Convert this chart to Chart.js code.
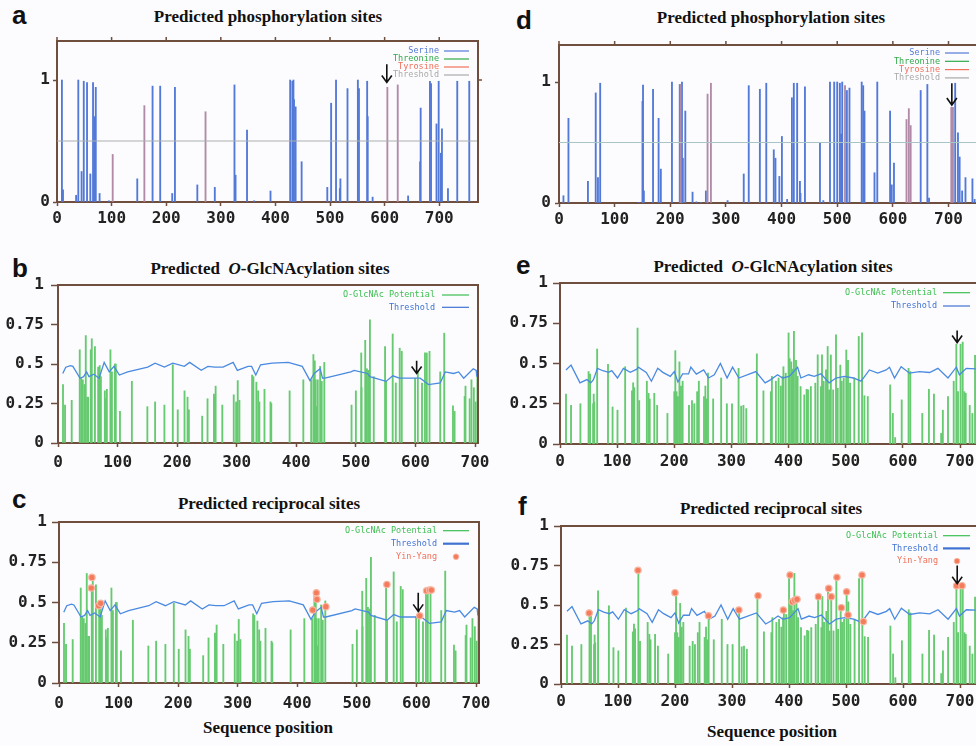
<!DOCTYPE html>
<html>
<head>
<meta charset="utf-8">
<script src="https://cdn.jsdelivr.net/npm/chart.js@4.4.0/dist/chart.umd.min.js"></script>
<style>
html, body { margin:0; padding:0; background:#fcfcfe; width:976px; height:746px; overflow:hidden; position:relative; }
.panel { position:absolute; }
.title { position:absolute; font:bold 17px "Liberation Serif","Times New Roman",serif; line-height:20px; white-space:nowrap; transform:translateX(-50%); color:#111; }
.letter { position:absolute; font:bold 26px "Liberation Sans",Arial,sans-serif; line-height:26px; color:#111; }
</style>
</head>
<body>
<div class="letter" style="left:12px;top:2px">a</div>
<div class="letter" style="left:12px;top:255px">b</div>
<div class="letter" style="left:12px;top:486px">c</div>
<div class="letter" style="left:516px;top:7px">d</div>
<div class="letter" style="left:516px;top:252px">e</div>
<div class="letter" style="left:518px;top:493px">f</div>
<div class="title" style="left:268px;top:7px">Predicted phosphorylation sites</div>
<div class="title" style="left:771px;top:8px">Predicted phosphorylation sites</div>
<div class="title" style="left:270px;top:259px">Predicted&nbsp; <i>O</i>-GlcNAcylation sites</div>
<div class="title" style="left:773px;top:257px">Predicted&nbsp; <i>O</i>-GlcNAcylation sites</div>
<div class="title" style="left:269px;top:494px">Predicted reciprocal sites</div>
<div class="title" style="left:771px;top:499px">Predicted reciprocal sites</div>
<div class="title" style="left:268px;top:718px">Sequence position</div>
<div class="title" style="left:772px;top:722px">Sequence position</div>
<script>
// ---- tick labels
var posTicks = [0, 100, 200, 300, 400, 500, 600, 700];
var phosYTicks = [0, 1];
var glcYTicks = [0, 0.25, 0.5, 0.75, 1];

// ---- panel a : phosphorylation, protein 1
var phosA_S_pos = [9,11,35,39,45,49,55,61,66,69,71,78,95,147,175,189,211,216,257,289,325,327,348,361,391,427,431,433,434,437,448,495,502,511,518,519,532,551,553,568,569,578,643,665,666,683,685,695,699,703,705,716,733,755];
var phosA_S_val = [1.0,0.10,0.055,1.0,0.25,0.99,0.98,0.23,0.98,0.70,0.94,0.07,0.01,0.19,0.95,0.95,0.07,0.94,0.14,0.12,0.96,0.22,0.59,0.01,0.09,1.0,0.99,1.0,0.84,0.78,0.33,0.12,0.81,1.0,0.11,0.19,0.93,1.0,0.93,0.99,0.70,0.04,0.05,0.33,0.77,0.99,0.97,0.64,0.99,0.40,0.60,0.11,0.99,0.99];
var phosA_Y_pos = [102,160,272,605,624];
var phosA_Y_val = [0.39,0.79,0.74,0.94,0.96];
var phosA_thrX = [0, 771];
var phosA_thrY = [0.5, 0.5];

// ---- panel d : phosphorylation, protein 2
var phosD_S_pos = [8,17,52,66,70,74,143,150,151,152.5,169,179,183,203,217,221,222.6,227,240,247,255,264,303,332,341,361,372.5,386,389,396,400.6,410,418.6,422,428,433,434,442,469,475,487,494.6,500,504.8,507,509,517.4,522,544,546.7,549,567,572,595,598,602,650,662,665,712,717,720,724.5,730.5,743,747];
var phosD_S_val = [0.06,0.70,0.18,0.91,0.21,0.99,0.005,0.84,0.975,0.10,0.94,0.70,0.28,1.0,0.98,1.0,0.37,0.76,0.09,0.01,0.005,0.10,0.02,0.24,0.97,0.94,0.99,0.44,0.37,0.22,0.55,0.03,0.87,0.99,0.99,0.18,0.08,0.96,0.50,0.02,1.0,1.0,1.0,0.99,0.57,1.0,0.93,0.95,1.0,0.97,0.76,0.25,1.0,0.76,0.15,0.33,0.93,0.98,0.04,0.99,0.58,0.38,0.10,0.21,0.20,0.03];
var phosD_Y_pos = [218.5,267,273,514,624.5,628.7,632,705,708];
var phosD_Y_val = [0.98,0.90,0.99,0.97,0.69,0.78,0.64,0.79,0.79];
var phosD_thrX = [0, 762];
var phosD_thrY = [0.5, 0.5];

// ---- panels b/c : O-GlcNAc potential, protein 1
var glc1_pos = [8.4,11.8,23,36.5,39,41.6,44.4,46.6,49,50.5,55,56.7,62,67.4,70,72,78.6,80,82,88,90.5,95.5,97,104,124,150,163,178.6,192.7,201,212.4,217.4,219.7,242,251,261.8,263.5,264.6,275.8,295,299,301.7,304.5,325.8,328,333,336,338,346.6,356.7,358,388.8,411.8,425,428.7,431,432.6,434.3,436,440,442.7,447,492.7,500,509,509.5,515.7,518.5,520.8,523.6,530,549,550.6,561.8,567,573.6,577,599.4,604,611,616,619,623.6,641.6,648.3,663,665.7,682.6,684,691,694,698,701,704];
var glc1_val = [0.37,0.24,0.27,0.59,0.41,0.40,0.37,0.68,0.29,0.29,0.59,0.66,0.61,0.48,0.49,0.42,0.33,0.28,0.34,0.59,0.45,0.50,0.50,0.20,0.39,0.23,0.26,0.24,0.495,0.21,0.33,0.29,0.21,0.17,0.28,0.31,0.29,0.36,0.24,0.305,0.26,0.395,0.27,0.43,0.42,0.385,0.33,0.26,0.34,0.26,0.25,0.33,0.40,0.40,0.56,0.52,0.40,0.23,0.40,0.485,0.39,0.51,0.24,0.33,0.57,0.35,0.65,0.47,0.46,0.78,0.42,0.61,0.39,0.69,0.38,0.60,0.58,0.41,0.45,0.38,0.57,0.57,0.58,0.45,0.695,0.235,0.20,0.295,0.36,0.28,0.40,0.35,0.26,0.44];
var glc1_thrX = [8,13,21,25,37,43,48,52,60,69,77.5,86,94,103,117,150.6,163,178.6,192.7,212,221,240.4,251.7,263,277,294,301,319,325,332,340,359.5,386.5,410,423,430,440,444,448,491.6,497,519.6,523.6,550.6,562,573,590,607.9,622,641.6,650,664,672.5,681,697,702,703];
var glc1_thrY = [0.44,0.48,0.49,0.485,0.41,0.42,0.45,0.42,0.435,0.41,0.51,0.45,0.485,0.43,0.45,0.48,0.505,0.48,0.505,0.485,0.51,0.46,0.485,0.48,0.48,0.51,0.46,0.485,0.485,0.43,0.495,0.505,0.51,0.485,0.395,0.44,0.47,0.41,0.41,0.45,0.46,0.44,0.42,0.39,0.425,0.41,0.41,0.41,0.37,0.38,0.45,0.44,0.45,0.41,0.47,0.46,0.42];
var yy1_pos = [54.2,55.3,66.5,70,426,432,433,448,550.4,605.6,617,622,625];
var yy1_val = [0.59,0.656,0.48,0.495,0.453,0.56,0.52,0.474,0.612,0.417,0.573,0.577,0.577];

// ---- panels e/f : O-GlcNAc potential, protein 2
var glc2_pos = [10.5,19.3,35.7,50,52.6,58,59,60,65,84,92,100.6,114,126,128,130,135.7,138.6,152,155,157,165,170,188,200,201.8,204,206.4,209,211.7,214.6,225.7,231,235,240,243,252,254.4,256.7,259,268,282,292,301,312.5,317,321,326,344.5,356,369,370.8,377.8,382.5,386.5,389.5,391,395,400,402,404.7,407,409.4,413,415.8,421,427.5,431.6,434,439,446.8,451,456.7,458.5,461.4,465.5,468.4,471,474,478,483,486,490.6,493,496.5,501,504,507.6,515,522.8,528.6,532.7,538.6,577.8,582.5,586.5,598,610,613,634,645.6,654.4,667,670,679,689,693.6,696.5,701,704.7,707.6,710,717,721.6,726.3];
var glc2_val = [0.31,0.24,0.25,0.45,0.435,0.25,0.31,0.26,0.59,0.495,0.23,0.21,0.48,0.33,0.38,0.35,0.72,0.27,0.39,0.315,0.28,0.315,0.24,0.19,0.325,0.58,0.325,0.295,0.51,0.36,0.39,0.24,0.27,0.25,0.325,0.39,0.295,0.36,0.28,0.44,0.28,0.41,0.25,0.25,0.47,0.235,0.24,0.22,0.56,0.33,0.325,0.42,0.39,0.41,0.36,0.42,0.48,0.44,0.69,0.53,0.51,0.465,0.70,0.52,0.42,0.357,0.305,0.34,0.336,0.357,0.378,0.554,0.357,0.554,0.39,0.46,0.606,0.336,0.553,0.336,0.678,0.346,0.49,0.39,0.41,0.584,0.52,0.378,0.41,0.668,0.69,0.30,0.295,0.367,0.19,0.04,0.274,0.47,0.45,0.19,0.34,0.31,0.066,0.21,0.295,0.39,0.62,0.325,0.62,0.633,0.325,0.315,0.24,0.19,0.55];
var glc2_thrX = [10.5,19.3,35,47,54,58.5,65.5,75,85,90.6,100.6,111,123,134.5,137,151,160,171,180,193,200,206.4,214.6,225,229,238.6,251.5,260,270,280.7,292.4,302,313,342.7,359,369,380.7,389.5,401,415.8,421.6,435,445,456.7,471,483,497.7,513.5,526.9,541.5,556,570.8,576.6,585.4,597,611.7,629,646.8,661.4,679,693.6,699,711,727.5];
var glc2_thrY = [0.46,0.49,0.38,0.40,0.38,0.40,0.47,0.455,0.445,0.456,0.41,0.47,0.445,0.465,0.477,0.445,0.39,0.47,0.445,0.42,0.45,0.385,0.435,0.435,0.477,0.434,0.46,0.41,0.43,0.5,0.41,0.477,0.41,0.45,0.38,0.40,0.43,0.41,0.42,0.477,0.41,0.43,0.42,0.436,0.38,0.41,0.42,0.41,0.39,0.46,0.44,0.46,0.477,0.41,0.48,0.44,0.45,0.444,0.47,0.41,0.477,0.43,0.47,0.467];
var yy2_pos = [49.4,135,200,258.7,312,345.6,390,401.8,405.8,410,414,451.5,469.6,474,484,491.8,501,503.5,528,530.4,694,703.5];
var yy2_val = [0.449,0.72,0.578,0.432,0.468,0.559,0.468,0.69,0.52,0.53,0.536,0.553,0.605,0.553,0.675,0.483,0.584,0.437,0.69,0.395,0.622,0.622];

// ---- colours
var BROWN = '#6f4e3d';
var SER = '#5379d8', THR = '#2faa4a', TYR = '#b08aa6';
var GREEN = '#66ca70', TBLUE = '#4a8ae0', YY = '#f47c5c';
var TICK_FONT = {family: '"DejaVu Sans Mono", monospace', size: 16, weight: 'bold'};

function pts(xs, ys) {
  return xs.map(function (x, i) { return {x: x, y: ys[i]}; });
}

function barSet(groups) {
  var data = [], colors = [];
  groups.forEach(function (g) {
    g.pos.forEach(function (p, i) { data.push({x: p, y: g.val[i]}); colors.push(g.color); });
  });
  return {type: 'bar', data: data, backgroundColor: colors, borderWidth: 0, barThickness: 1.2, order: 3};
}

function lineSet(xs, ys, color, w) {
  return {type: 'line', data: pts(xs, ys), borderColor: color, borderWidth: w, pointRadius: 0, tension: 0, fill: false, order: 2};
}

function dotSet(xs, ys) {
  return {type: 'line', data: pts(xs, ys), showLine: false, pointStyle: 'circle', pointRadius: 3.2,
    pointBackgroundColor: YY, pointBorderColor: '#f9b6a2', pointBorderWidth: 1.2, order: 1};
}

// box lines on top / right, plus the extra ticks of the phosphorylation plots
var framePlugin = {
  id: 'frame',
  afterDraw: function (chart, args, o) {
    var ctx = chart.ctx, a = chart.chartArea, xs = chart.scales.x, ys = chart.scales.y;
    ctx.save();
    ctx.strokeStyle = BROWN;
    ctx.lineWidth = 2;
    ctx.beginPath();
    ctx.moveTo(a.left - 1, a.top); ctx.lineTo(a.right, a.top); ctx.lineTo(a.right, a.bottom + 1);
    ctx.stroke();
    if (o.outerTicks) {
      ctx.lineWidth = 1.5;
      ctx.beginPath();
      xs.ticks.forEach(function (t) {
        var px = xs.getPixelForValue(t.value);
        ctx.moveTo(px, a.top); ctx.lineTo(px, a.top - 4);
      });
      var py = ys.getPixelForValue(1);
      ctx.moveTo(a.right, py); ctx.lineTo(a.right + 4, py);
      ctx.stroke();
    }
    ctx.restore();
  }
};

// key in the upper right corner (text, then a sample)
var keyPlugin = {
  id: 'key',
  afterDraw: function (chart, args, o) {
    if (!o.items) return;
    var ctx = chart.ctx;
    ctx.save();
    ctx.font = '8.5px "DejaVu Sans Mono", monospace';
    ctx.textAlign = 'right';
    ctx.textBaseline = 'middle';
    o.items.forEach(function (it, i) {
      var y = o.y + i * o.dy;
      ctx.fillStyle = it.color;
      ctx.fillText(it.text, o.x, y);
      if (it.dot) {
        ctx.beginPath();
        ctx.arc(o.x + o.dotAt, y, 2.8, 0, Math.PI * 2);
        ctx.fillStyle = YY; ctx.fill();
        ctx.strokeStyle = '#f9b6a2'; ctx.lineWidth = 1; ctx.stroke();
      } else {
        ctx.strokeStyle = it.color;
        ctx.lineWidth = it.lw || 1.2;
        ctx.beginPath();
        ctx.moveTo(o.x + o.gap, y); ctx.lineTo(o.x + o.gap + o.len, y);
        ctx.stroke();
      }
    });
    ctx.restore();
  }
};

// the down arrow marking the site
var arrowPlugin = {
  id: 'arrow',
  afterDraw: function (chart, args, o) {
    if (o.at === undefined) return;
    var ctx = chart.ctx, xs = chart.scales.x, ys = chart.scales.y;
    var px = xs.getPixelForValue(o.at), y0 = ys.getPixelForValue(o.from), y1 = ys.getPixelForValue(o.to);
    ctx.save();
    ctx.strokeStyle = '#111';
    ctx.lineWidth = 1.6;
    ctx.beginPath();
    ctx.moveTo(px, y0); ctx.lineTo(px, y1);
    ctx.moveTo(px - 5, y1 - 7); ctx.lineTo(px, y1); ctx.lineTo(px + 5, y1 - 7);
    ctx.stroke();
    ctx.restore();
  }
};

Chart.register(framePlugin, keyPlugin, arrowPlugin);

function makePanel(p) {
  var PADL = 55, PADT = 14, PADR = 24, PADB = 32;
  var left = p.box[0] - PADL, top = p.box[1] - PADT;
  var w = p.box[2] - p.box[0] + PADL + PADR;
  var h = p.box[3] - p.box[1] + PADT + PADB;
  var div = document.createElement('div');
  div.className = 'panel';
  div.style.left = left + 'px';
  div.style.top = top + 'px';
  var cv = document.createElement('canvas');
  cv.width = w; cv.height = h;
  cv.style.width = w + 'px'; cv.style.height = h + 'px';
  div.appendChild(cv);
  document.body.appendChild(div);

  var key = p.key;
  key.x -= left; key.y -= top;
  var arrow = {at: p.arrow[0], from: p.arrow[1], to: p.arrow[2]};

  new Chart(cv, {
    type: 'bar',
    data: {datasets: p.datasets},
    options: {
      responsive: false,
      animation: false,
      devicePixelRatio: 1,
      layout: {padding: {top: PADT, right: PADR, left: 0, bottom: 0}},
      plugins: {
        legend: {display: false},
        tooltip: {enabled: false},
        frame: {outerTicks: p.phos},
        key: key,
        arrow: arrow
      },
      scales: {
        x: {
          type: 'linear', min: 0, max: p.xmax, offset: false,
          afterBuildTicks: function (s) { s.ticks = posTicks.map(function (v) { return {value: v}; }); },
          afterFit: function (s) { s.height = PADB; s.paddingLeft = 0; s.paddingRight = 0; },
          grid: {drawOnChartArea: false, offset: false, color: BROWN, tickLength: 4, tickWidth: 1.5},
          border: {color: BROWN, width: 2},
          ticks: {font: TICK_FONT, color: '#222', padding: p.xpad, maxRotation: 0, autoSkip: false,
            callback: function (v) { return String(v); }}
        },
        y: {
          min: 0, max: p.ymax,
          afterBuildTicks: function (s) { s.ticks = p.yticks.map(function (v) { return {value: v}; }); },
          afterFit: function (s) { s.width = PADL; s.paddingTop = 0; s.paddingBottom = 0; },
          grid: {drawOnChartArea: false, color: BROWN, tickLength: p.phos ? 4 : 7, tickWidth: 1.5},
          border: {color: BROWN, width: 2},
          ticks: {font: TICK_FONT, color: '#222', padding: p.ypad, autoSkip: false,
            callback: function (v) { return String(v); }}
        }
      }
    }
  });
}

var phosKey = [
  {text: 'Serine', color: SER},
  {text: 'Threonine', color: THR},
  {text: 'Tyrosine', color: '#f07058'},
  {text: 'Threshold', color: '#a9a9a9'}
];
var glcKey = [
  {text: 'O-GlcNAc Potential', color: '#3cbf50'},
  {text: 'Threshold', color: '#3f72d2'}
];
var recKey = [
  {text: 'O-GlcNAc Potential', color: '#3cbf50'},
  {text: 'Threshold', color: '#3f72d2', lw: 2.2},
  {text: 'Yin-Yang', color: '#f07058', dot: true}
];

// a
makePanel({
  box: [57, 41, 478, 202], xmax: 771, ymax: 1.32, yticks: phosYTicks, phos: true, xpad: 3, ypad: 3,
  datasets: [
    lineSet(phosA_thrX, phosA_thrY, '#a9aeb0', 1.2),
    barSet([{pos: phosA_S_pos, val: phosA_S_val, color: SER}, {pos: phosA_Y_pos, val: phosA_Y_val, color: TYR}])
  ],
  key: {x: 439, y: 51, dy: 8, gap: 5, len: 25, items: phosKey},
  arrow: [604, 1.13, 0.98]
});

// d
makePanel({
  box: [559, 45, 983, 203], xmax: 762, ymax: 1.306, yticks: phosYTicks, phos: true, xpad: 3, ypad: 4,
  datasets: [
    lineSet(phosD_thrX, phosD_thrY, '#a9c4c4', 1.2),
    barSet([{pos: phosD_S_pos, val: phosD_S_val, color: SER}, {pos: phosD_Y_pos, val: phosD_Y_val, color: TYR}])
  ],
  key: {x: 940, y: 53, dy: 8.3, gap: 5, len: 24, items: phosKey},
  arrow: [706, 0.99, 0.81]
});

// b
makePanel({
  box: [58, 285, 478, 443], xmax: 705, ymax: 1, yticks: glcYTicks, phos: false, xpad: 6, ypad: 7,
  datasets: [
    lineSet(glc1_thrX, glc1_thrY, TBLUE, 1.3),
    barSet([{pos: glc1_pos, val: glc1_val, color: GREEN}])
  ],
  key: {x: 435, y: 295, dy: 12.3, gap: 7, len: 27, items: glcKey},
  arrow: [602, 0.52, 0.44]
});

// c
makePanel({
  box: [59, 522, 479, 683], xmax: 705, ymax: 1, yticks: glcYTicks, phos: false, xpad: 7, ypad: 5,
  datasets: [
    dotSet(yy1_pos, yy1_val),
    lineSet(glc1_thrX, glc1_thrY, TBLUE, 1.3),
    barSet([{pos: glc1_pos, val: glc1_val, color: GREEN}])
  ],
  key: {x: 437, y: 530.7, dy: 13, gap: 6, len: 26, dotAt: 19, items: recKey},
  arrow: [603, 0.56, 0.445]
});

// e
makePanel({
  box: [560, 283, 984, 444], xmax: 742, ymax: 1, yticks: glcYTicks, phos: false, xpad: 4, ypad: 5,
  datasets: [
    lineSet(glc2_thrX, glc2_thrY, TBLUE, 1.3),
    barSet([{pos: glc2_pos, val: glc2_val, color: GREEN}])
  ],
  key: {x: 937, y: 292.7, dy: 13.3, gap: 6, len: 27, items: glcKey},
  arrow: [695, 0.705, 0.63]
});

// f
makePanel({
  box: [561, 526, 984, 684], xmax: 742, ymax: 1, yticks: glcYTicks, phos: false, xpad: 4, ypad: 5,
  datasets: [
    dotSet(yy2_pos, yy2_val),
    lineSet(glc2_thrX, glc2_thrY, TBLUE, 1.3),
    barSet([{pos: glc2_pos, val: glc2_val, color: GREEN}])
  ],
  key: {x: 938, y: 535.7, dy: 12.7, gap: 5, len: 27, dotAt: 19, items: recKey},
  arrow: [695, 0.75, 0.635]
});
</script>
</body>
</html>
